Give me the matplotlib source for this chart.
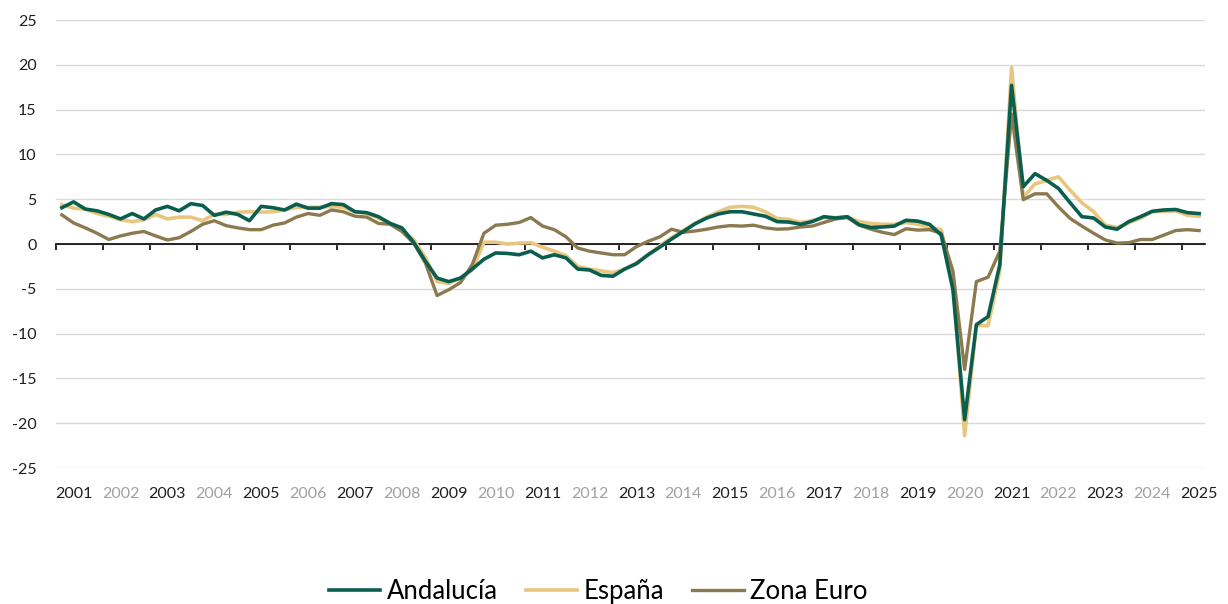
import numpy as np
import matplotlib.pyplot as plt

# Crecimiento interanual del PIB (%), datos trimestrales 2001T1 - 2025T2
anios = list(range(2001, 2026))

andalucia = [
    4.05, 4.7, 3.9, 3.7,      # 2001
    3.3, 2.8, 3.4, 2.8,       # 2002
    3.8, 4.2, 3.7, 4.5,       # 2003
    4.3, 3.2, 3.55, 3.3,      # 2004
    2.6, 4.2, 4.05, 3.8,      # 2005
    4.45, 4.0, 4.0, 4.5,      # 2006
    4.4, 3.6, 3.5, 3.05,      # 2007
    2.3, 1.8, 0.2, -1.9,      # 2008
    -3.8, -4.2, -3.8, -2.8,   # 2009
    -1.7, -1.0, -1.05, -1.2,  # 2010
    -0.8, -1.55, -1.2, -1.55, # 2011
    -2.8, -2.9, -3.5, -3.6,   # 2012
    -2.8, -2.2, -1.2, -0.35,  # 2013
    0.55, 1.4, 2.25, 2.9,     # 2014
    3.35, 3.6, 3.6, 3.35,     # 2015
    3.1, 2.5, 2.45, 2.2,      # 2016
    2.5, 3.05, 2.9, 3.05,     # 2017
    2.15, 1.85, 1.9, 2.0,     # 2018
    2.65, 2.55, 2.2, 1.0,     # 2019
    -5.1, -19.6, -9.0, -8.1,  # 2020
    -2.3, 17.7, 6.4, 7.85,    # 2021
    7.1, 6.2, 4.6, 3.05,      # 2022
    2.9, 1.9, 1.65, 2.5,      # 2023
    3.05, 3.65, 3.8, 3.85,    # 2024
    3.5, 3.4,                 # 2025
]

espana = [
    4.4, 4.0, 3.9, 3.4,
    3.1, 2.7, 2.5, 2.7,
    3.3, 2.8, 3.0, 3.0,
    2.6, 3.3, 3.3, 3.55,
    3.6, 3.55, 3.6, 3.8,
    4.1, 4.1, 4.1, 4.2,
    4.1, 3.6, 3.4, 2.9,
    2.3, 1.5, 0.5, -1.5,
    -4.2, -4.4, -3.8, -2.9,
    0.2, 0.2, 0.0, 0.1,
    0.15, -0.35, -0.8, -1.3,
    -2.5, -2.8, -3.0, -3.2,
    -2.8, -2.1, -1.2, -0.2,
    0.7, 1.5, 2.3, 3.0,
    3.6, 4.1, 4.2, 4.1,
    3.6, 2.85, 2.75, 2.4,
    2.6, 2.9, 2.95, 3.0,
    2.5, 2.3, 2.2, 2.2,
    2.4, 2.2, 1.85, 1.6,
    -4.3, -21.4, -9.1, -9.1,
    -3.0, 19.7, 5.2, 6.7,
    7.1, 7.5, 6.0, 4.6,
    3.6, 2.1, 1.85, 2.35,
    2.9, 3.6, 3.65, 3.7,
    3.2, 3.1,
]

zona_euro = [
    3.25, 2.35, 1.8, 1.2,
    0.5, 0.9, 1.2, 1.4,
    0.9, 0.45, 0.7, 1.4,
    2.2, 2.6, 2.05, 1.8,
    1.6, 1.6, 2.1, 2.35,
    3.0, 3.4, 3.2, 3.8,
    3.6, 3.1, 3.0, 2.3,
    2.2, 1.4, 0.1, -2.1,
    -5.75, -5.1, -4.3, -2.3,
    1.2, 2.1, 2.2, 2.4,
    2.95, 2.0, 1.6, 0.8,
    -0.45, -0.8, -1.0, -1.2,
    -1.2, -0.3, 0.3, 0.8,
    1.65, 1.3, 1.45, 1.65,
    1.9, 2.05, 2.0, 2.1,
    1.8, 1.65, 1.7, 1.9,
    2.0, 2.4, 2.8, 2.95,
    2.1, 1.65, 1.3, 1.05,
    1.7, 1.55, 1.6, 1.2,
    -3.0, -14.0, -4.2, -3.7,
    -0.8, 14.5, 4.95, 5.6,
    5.6, 4.15, 2.85, 2.0,
    1.2, 0.45, 0.1, 0.15,
    0.5, 0.5, 1.0, 1.5,
    1.6, 1.5,
]

plt.rcParams['font.family'] = ['Lato', 'DejaVu Sans']
plt.rcParams['axes.unicode_minus'] = False

n = len(andalucia)
trimestres = np.arange(n)

fig = plt.figure(figsize=(12.28, 6.04), dpi=100)
ax = fig.add_axes([56 / 1228, 1 - 468 / 604, (1205 - 56) / 1228, (468 - 20) / 604])

ax.plot(trimestres, andalucia, color='#0a5e4e', lw=2.6, label='Andalucía', zorder=4)
ax.plot(trimestres, espana, color='#e8c67f', lw=2.6, label='España', zorder=2)
ax.plot(trimestres, zona_euro, color='#8b7a4f', lw=2.4, label='Zona Euro', zorder=3)

ax.set_xlim(-0.5, n - 0.5)
ax.set_ylim(-25, 25)
ax.set_yticks(range(-25, 30, 5))
ax.yaxis.grid(True, color='#d9d9d9', lw=1.0)
ax.set_axisbelow(True)
ax.tick_params(axis='y', length=0, pad=14, labelsize=11.5, labelcolor='#1f1f1f')

for s in ['left', 'right', 'top']:
    ax.spines[s].set_visible(False)
ax.spines['bottom'].set_position(('data', 0))
ax.spines['bottom'].set_color('black')
ax.spines['bottom'].set_linewidth(1.2)
ax.spines['bottom'].set_zorder(1.5)

# marcas de separación de años sobre la línea de cero
ax.set_xticks(np.arange(-0.5, n - 1, 4))
ax.tick_params(axis='x', direction='out', length=4, width=1.2, color='black', labelbottom=False)

# etiquetas de años en la parte inferior
sec = ax.secondary_xaxis('bottom')
sec.set_xticks(np.arange(len(anios)) * 4 + 1.0, labels=[str(a) for a in anios])
sec.tick_params(length=0, pad=14, labelsize=11.5)
sec.spines['bottom'].set_visible(False)
for i, lab in enumerate(sec.get_xticklabels()):
    lab.set_color('#1f1f1f' if i % 2 == 0 else '#a0a0a0')

fig.legend(loc='center', bbox_to_anchor=(0.487, 0.02), ncol=3, frameon=False,
           fontsize=18.5, handlelength=2.0, handletextpad=0.25, columnspacing=1.1)

fig.savefig('out.png', dpi=100)
